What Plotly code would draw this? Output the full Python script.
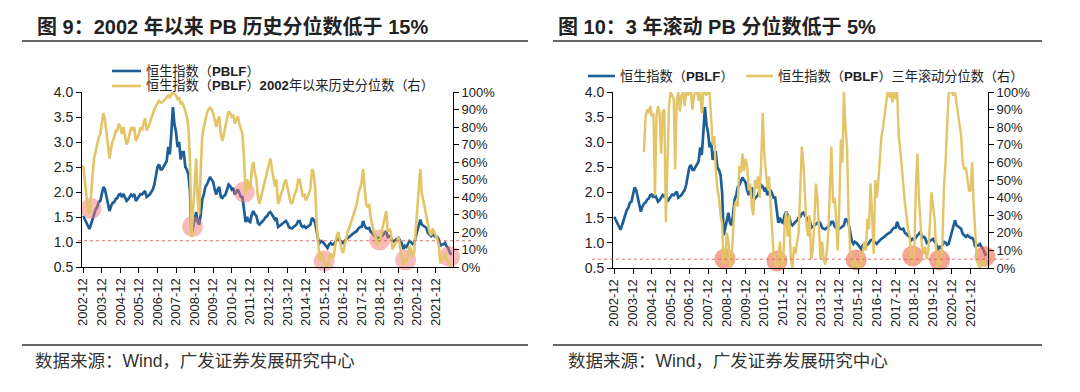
import pandas as pd
import plotly.graph_objects as go

# ---------------- data ----------------
# monthly observations, 2002-12 .. 2022-10
months = pd.date_range("2002-12-01", periods=239, freq="MS") + pd.Timedelta(days=14)

# Hang Seng Index PB (LF)
pblf = [
    1.52,
    1.45, 1.38, 1.30, 1.26, 1.35, 1.45, 1.55, 1.65, 1.70, 1.80, 1.82, 1.95,  # 2003
    2.10, 2.05, 1.90, 1.75, 1.62, 1.72, 1.78, 1.80, 1.86, 1.88, 1.95, 1.96,  # 2004
    1.90, 1.96, 1.88, 1.82, 1.85, 1.90, 1.95, 1.92, 1.96, 1.82, 1.86, 1.90,  # 2005
    1.96, 1.95, 1.98, 2.02, 1.90, 1.92, 1.95, 2.00, 2.05, 2.15, 2.30, 2.50,  # 2006
    2.55, 2.45, 2.45, 2.50, 2.55, 2.62, 2.90, 2.75, 3.20, 3.70, 3.35, 3.20,  # 2007
    2.90, 3.00, 2.65, 2.80, 2.80, 2.50, 2.45, 2.35, 2.00, 1.15, 1.30, 1.45,  # 2008
    1.60, 1.40, 1.35, 1.55, 1.85, 1.95, 2.10, 2.15, 2.25, 2.30, 2.25, 2.20,  # 2009
    2.05, 1.95, 2.05, 2.10, 1.90, 1.88, 1.92, 1.95, 2.05, 2.15, 2.12, 2.05,  # 2010
    2.08, 1.95, 2.00, 2.05, 1.98, 1.90, 1.90, 1.65, 1.40, 1.50, 1.42, 1.40,  # 2011
    1.55, 1.62, 1.55, 1.52, 1.38, 1.35, 1.38, 1.40, 1.45, 1.50, 1.52, 1.58,  # 2012
    1.60, 1.55, 1.50, 1.45, 1.48, 1.30, 1.32, 1.35, 1.38, 1.40, 1.42, 1.38,  # 2013
    1.30, 1.28, 1.27, 1.30, 1.32, 1.35, 1.42, 1.42, 1.33, 1.30, 1.32, 1.28,  # 2014
    1.30, 1.32, 1.35, 1.48, 1.45, 1.38, 1.18, 1.05, 0.98, 1.02, 1.00, 0.96,  # 2015
    0.90, 0.88, 0.95, 0.98, 0.95, 0.96, 1.00, 1.05, 1.06, 1.03, 1.00, 0.98,  # 2016
    1.02, 1.06, 1.08, 1.10, 1.13, 1.15, 1.18, 1.20, 1.22, 1.27, 1.30, 1.30,  # 2017
    1.42, 1.32, 1.28, 1.27, 1.28, 1.20, 1.18, 1.14, 1.12, 1.05, 1.08, 1.06,  # 2018
    1.12, 1.15, 1.18, 1.22, 1.10, 1.12, 1.10, 1.00, 1.02, 1.04, 1.05, 1.08,  # 2019
    1.02, 0.98, 0.86, 0.92, 0.90, 0.96, 1.02, 1.00, 0.96, 0.98, 1.10, 1.20,  # 2020
    1.30, 1.45, 1.35, 1.32, 1.30, 1.28, 1.18, 1.15, 1.12, 1.15, 1.12, 1.10,  # 2021
    1.10, 1.05, 0.92, 0.95, 0.95, 0.98, 0.92, 0.88, 0.80, 0.74,              # 2022
]

# percentile since 2002 (%)
pct_since_2002 = [
    58,
    50, 40, 33, 30, 42, 55, 62, 66, 70, 74, 76, 82,   # 2003
    88, 84, 76, 68, 62, 68, 72, 74, 78, 78, 82, 80,   # 2004
    76, 80, 74, 70, 72, 76, 80, 78, 80, 72, 74, 76,   # 2005
    80, 78, 82, 85, 78, 80, 82, 85, 88, 90, 92, 94,   # 2006
    95, 94, 94, 95, 96, 97, 98, 97, 99, 100, 99, 98,  # 2007
    96, 97, 93, 94, 92, 88, 86, 80, 60, 17, 35, 45,   # 2008
    62, 38, 30, 55, 75, 80, 85, 88, 90, 91, 90, 88,   # 2009
    84, 80, 84, 86, 76, 72, 76, 80, 85, 89, 88, 86,   # 2010
    87, 82, 84, 86, 82, 78, 76, 62, 42, 50, 46, 44,   # 2011
    56, 60, 54, 50, 40, 36, 40, 44, 48, 52, 55, 58,   # 2012
    62, 56, 50, 46, 50, 36, 38, 42, 44, 48, 50, 46,   # 2013
    40, 37, 36, 40, 42, 44, 50, 50, 44, 40, 42, 38,   # 2014
    40, 42, 45, 56, 54, 46, 25, 12, 3, 8, 5, 2,       # 2015
    0, 0, 4, 8, 5, 6, 12, 18, 20, 14, 10, 8,          # 2016
    12, 16, 20, 22, 25, 28, 30, 33, 36, 42, 46, 48,   # 2017
    56, 44, 36, 34, 36, 28, 24, 20, 18, 12, 16, 14,   # 2018
    20, 24, 28, 32, 20, 22, 20, 10, 12, 14, 15, 17,   # 2019
    12, 8, 1, 5, 3, 6, 12, 10, 6, 8, 22, 35,          # 2020
    45, 56, 42, 38, 34, 30, 24, 20, 18, 22, 20, 18,   # 2021
    16, 12, 2, 4, 5, 8, 4, 3, 1, 0,                   # 2022
]

# 3-year rolling percentile (%), starts mid-2004
pct_rolling_3y = [None] * 19 + [
    66, 86, 90, 88, 92, 86,                           # 2004 Jul-Dec
    88, 41, 86, 92, 88, 65, 89, 90, 26, 60, 92, 100,  # 2005
    98, 96, 56, 95, 100, 89, 98, 100, 92, 100, 98, 100,  # 2006
    100, 90, 98, 100, 100, 95, 100, 88, 100, 100, 98, 100,  # 2007
    100, 85, 70, 75, 55, 45, 40, 30, 25, 2, 5, 20,    # 2008
    15, 0, 2, 20, 35, 38, 35, 58, 54, 65, 55, 62,     # 2009
    58, 44, 48, 35, 30, 50, 45, 52, 40, 60, 88, 65,   # 2010
    55, 45, 52, 35, 20, 8, 2, 0, 5, 15, 3, 0,         # 2011
    25, 32, 18, 30, 5, 0, 12, 8, 15, 20, 45, 69,      # 2012
    60, 38, 25, 18, 30, 5, 10, 25, 48, 40, 20, 5,     # 2013
    15, 5, 2, 9, 20, 45, 69, 37, 40, 28, 10, 35,      # 2014
    73, 60, 100, 80, 69, 28, 10, 3, 0, 5, 2, 0,       # 2015
    0, 3, 8, 15, 10, 28, 22, 48, 30, 8, 50, 40,       # 2016
    50, 65, 75, 80, 88, 94, 100, 97, 100, 94, 100, 96,  # 2017
    100, 75, 68, 56, 50, 37, 30, 22, 18, 5, 3, 10,    # 2018
    46, 65, 40, 28, 12, 8, 12, 5, 10, 25, 43, 35,     # 2019
    28, 10, 0, 5, 2, 15, 46, 60, 84, 100, 100, 100,   # 2020
    98, 100, 94, 88, 81, 75, 60, 56, 57, 50, 44, 44,  # 2021
    60, 35, 22, 5, 2, 0, 3, 5, 1, 2,                  # 2022
]

tick_years = list(range(2002, 2022))
tick_dates = [f"{y}-12-15" for y in tick_years]
tick_labels = [f"{y}-12" for y in tick_years]

left_mark_dates = ["2003-05-15", "2008-11-05", "2011-08-20", "2015-12-10",
                   "2018-12-05", "2020-05-01", "2022-09-15"]
left_mark_vals = [1.67, 1.31, 2.00, 0.62, 1.04, 0.64, 0.71]
right_mark_dates = ["2008-11-10", "2011-08-20", "2015-11-10", "2018-11-15",
                    "2020-04-20", "2022-09-20"]
right_mark_vals = [0.68, 0.64, 0.66, 0.74, 0.66, 0.73]

threshold_left = 0.15
threshold_right = 0.05

title_left = "图 9：2002 年以来 PB 历史分位数低于 15%"
title_right = "图 10：3 年滚动 PB 分位数低于 5%"
name_pb = "恒生指数（PBLF）"
name_pct_left = "恒生指数（PBLF）2002年以来历史分位数（右）"
name_pct_right = "恒生指数（PBLF）三年滚动分位数（右）"
source = "数据来源：Wind，广发证券发展研究中心"

# ---------------- styling ----------------
W, H = 1080, 392
BLUE = "#1E5E96"
GOLD = "#E3C466"
CJK = "Liberation Sans, Noto Sans CJK SC, sans-serif"
LAT = "Liberation Sans, Arial, sans-serif"


def px(x):
    return x / W


def py(y):
    return 1 - y / H


pct_left_frac = [None if v is None else v / 100 for v in pct_since_2002]
pct_right_frac = [None if v is None else v / 100 for v in pct_rolling_3y]

fig = go.Figure()

# left panel: yellow under blue
fig.add_trace(go.Scatter(x=months, y=pct_left_frac, xaxis="x", yaxis="y2",
                         mode="lines", line=dict(color=GOLD, width=2.6),
                         name=name_pct_left, showlegend=False))
fig.add_trace(go.Scatter(x=months, y=pblf, xaxis="x", yaxis="y",
                         mode="lines", line=dict(color=BLUE, width=2.7),
                         name=name_pb, showlegend=False))
fig.add_trace(go.Scatter(x=left_mark_dates, y=left_mark_vals, xaxis="x", yaxis="y",
                         mode="markers", cliponaxis=False,
                         marker=dict(size=21, color="rgba(242,118,118,0.5)", line=dict(width=0)),
                         showlegend=False))

# right panel: yellow over blue
fig.add_trace(go.Scatter(x=months, y=pblf, xaxis="x2", yaxis="y3",
                         mode="lines", line=dict(color=BLUE, width=2.7),
                         name=name_pb, showlegend=False))
fig.add_trace(go.Scatter(x=months, y=pct_right_frac, xaxis="x2", yaxis="y4",
                         mode="lines", line=dict(color=GOLD, width=2.4),
                         connectgaps=False, name=name_pct_right, showlegend=False))
fig.add_trace(go.Scatter(x=right_mark_dates, y=right_mark_vals, xaxis="x2", yaxis="y3",
                         mode="markers", cliponaxis=False,
                         marker=dict(size=21, color="rgba(242,105,75,0.6)", line=dict(width=0)),
                         showlegend=False))

xcommon = dict(type="date", range=["2002-11-20", "2022-11-20"],
               tickvals=tick_dates, ticktext=tick_labels, tickangle=-90,
               showline=True, linecolor="#000", linewidth=1, ticks="outside",
               ticklen=5, tickcolor="#000", showgrid=False, zeroline=False,
               automargin=False,
               tickfont=dict(family=LAT, size=13, color="#222"))
yleft = dict(range=[0.5, 4.0], tickvals=[0.5, 1.0, 1.5, 2.0, 2.5, 3.0, 3.5, 4.0],
             tickformat=".1f", showline=True, linecolor="#000", linewidth=1,
             ticks="outside", ticklen=5, tickcolor="#000", showgrid=False,
             zeroline=False, automargin=False,
             tickfont=dict(family=LAT, size=14, color="#222"))
yright = dict(range=[0, 1], dtick=0.1, tickformat=".0%", side="right",
              showline=True, linecolor="#000", linewidth=1, ticks="outside",
              ticklen=5, tickcolor="#000", showgrid=False, zeroline=False,
              automargin=False,
              tickfont=dict(family=LAT, size=13, color="#222"))

fig.update_layout(
    width=W, height=H, autosize=False,
    margin=dict(l=0, r=0, t=0, b=0, pad=0, autoexpand=False),
    paper_bgcolor="white", plot_bgcolor="white", showlegend=False,
    hovermode=False,
    xaxis=dict(xcommon, domain=[px(82), px(453)], anchor="y"),
    yaxis=dict(yleft, domain=[py(267), py(92)], anchor="x"),
    yaxis2=dict(yright, overlaying="y", anchor="x"),
    xaxis2=dict(xcommon, domain=[px(613), px(988)], anchor="y3"),
    yaxis3=dict(yleft, domain=[py(268), py(92)], anchor="x2"),
    yaxis4=dict(yright, overlaying="y3", anchor="x2"),
)

shapes = []
# threshold dashed lines
shapes.append(dict(type="line", xref="paper", yref="y2", x0=px(78), x1=px(474),
                   y0=threshold_left, y1=threshold_left,
                   line=dict(color="rgba(205,90,90,0.85)", width=1, dash="3px,3px")))
shapes.append(dict(type="line", xref="paper", yref="y4", x0=px(592), x1=px(1010),
                   y0=threshold_right, y1=threshold_right,
                   line=dict(color="rgba(205,90,90,0.85)", width=1, dash="3px,3px")))
# rules
for x0, x1 in [(22, 528), (553, 1042)]:
    shapes.append(dict(type="line", xref="paper", yref="paper", x0=px(x0), x1=px(x1),
                       y0=py(41), y1=py(41), line=dict(color="#333", width=1.5)))
    shapes.append(dict(type="line", xref="paper", yref="paper", x0=px(x0), x1=px(x1),
                       y0=py(345), y1=py(345), line=dict(color="#333", width=1.5)))
# legend keys
legend_keys = [(112, 141, 71, BLUE), (112, 141, 86, GOLD),
               (588, 615, 76, BLUE), (746, 773, 76, GOLD)]
for x0, x1, yy, col in legend_keys:
    shapes.append(dict(type="line", xref="paper", yref="paper", x0=px(x0), x1=px(x1),
                       y0=py(yy), y1=py(yy), line=dict(color=col, width=2.6)))
fig.update_layout(shapes=shapes)

ann = []
ann.append(dict(text=f"<b>{title_left}</b>", x=px(35), y=py(26), xref="paper", yref="paper",
                xanchor="left", yanchor="middle", showarrow=False,
                font=dict(family=CJK, size=20, color="#222")))
ann.append(dict(text=f"<b>{title_right}</b>", x=px(556), y=py(26), xref="paper", yref="paper",
                xanchor="left", yanchor="middle", showarrow=False,
                font=dict(family=CJK, size=20, color="#222")))
legend_texts = [(name_pb, 144, 71), (name_pct_left, 144, 86),
                (name_pb, 618, 76), (name_pct_right, 776, 76)]
for txt, xx, yy in legend_texts:
    ann.append(dict(text=txt.replace("PBLF", "<b>PBLF</b>").replace("2002", "<b>2002</b>"),
                    x=px(xx), y=py(yy), xref="paper", yref="paper",
                    xanchor="left", yanchor="middle", showarrow=False,
                    font=dict(family=CJK, size=13.2, color="#222")))
for xx in (33, 566):
    ann.append(dict(text=source, x=px(xx), y=py(361), xref="paper", yref="paper",
                    xanchor="left", yanchor="middle", showarrow=False,
                    font=dict(family=CJK, size=17.5, color="#333")))
fig.update_layout(annotations=ann)

fig.write_html(
    "out.html",
    include_plotlyjs=True,
    config={"displayModeBar": False, "staticPlot": True},
    post_script="document.body.style.margin='0';document.body.style.padding='0';"
                "document.body.style.overflow='hidden';",
)
